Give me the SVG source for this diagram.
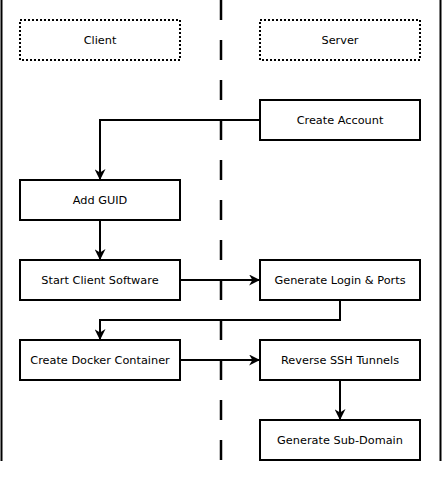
<svg xmlns="http://www.w3.org/2000/svg" width="443" height="483" viewBox="0 0 443 483">
<defs>
<style>
.box{fill:#fff;stroke:#000;stroke-width:2}
.lane{fill:#fff;stroke:#000;stroke-width:2;stroke-dasharray:2 2}
.t{font-family:"DejaVu Sans",Verdana,sans-serif;font-size:11.3px;fill:#000;text-anchor:middle;dominant-baseline:central}
.c{fill:none;stroke:#000;stroke-width:2}
</style>
<marker id="ah" viewBox="0 0 10 10" refX="9" refY="5" markerWidth="5.5" markerHeight="5.5" orient="auto" markerUnits="strokeWidth">
<path d="M0,0 L10,5 L0,10 L3,5 z" fill="#000"/>
</marker>
</defs>
<rect width="443" height="483" fill="#fff"/>
<g id="borders">
<line x1="1.5" y1="0" x2="1.5" y2="461" stroke="#000" stroke-width="2"/>
<line x1="440.5" y1="0" x2="440.5" y2="461" stroke="#000" stroke-width="2"/>
<line x1="221" y1="0" x2="221" y2="461" stroke="#000" stroke-width="2.5" stroke-dasharray="20 20"/>
</g>
<g id="client"><rect class="lane" x="20" y="20" width="160" height="40"/><text class="t" x="100" y="40">Client</text></g>
<g id="server"><rect class="lane" x="260" y="20" width="160" height="40"/><text class="t" x="340" y="40">Server</text></g>
<g id="connectors">
<path class="c" d="M260,120 H100 V179" marker-end="url(#ah)"/>
<path class="c" d="M100,220 V259" marker-end="url(#ah)"/>
<path class="c" d="M180,280 H259" marker-end="url(#ah)"/>
<path class="c" d="M340,300 V320 H100 V339" marker-end="url(#ah)"/>
<path class="c" d="M180,360 H259" marker-end="url(#ah)"/>
<path class="c" d="M340,380 V419" marker-end="url(#ah)"/>
</g>
<g id="create-account"><rect class="box" x="260" y="100" width="160" height="40"/><text class="t" x="340" y="120">Create Account</text></g>
<g id="add-guid"><rect class="box" x="20" y="180" width="160" height="40"/><text class="t" x="100" y="200">Add GUID</text></g>
<g id="start-client"><rect class="box" x="20" y="260" width="160" height="40"/><text class="t" x="100" y="280">Start Client Software</text></g>
<g id="generate-login"><rect class="box" x="260" y="260" width="160" height="40"/><text class="t" x="340" y="280">Generate Login &amp; Ports</text></g>
<g id="create-docker"><rect class="box" x="20" y="340" width="160" height="40"/><text class="t" x="100" y="360">Create Docker Container</text></g>
<g id="reverse-ssh"><rect class="box" x="260" y="340" width="160" height="40"/><text class="t" x="340" y="360">Reverse SSH Tunnels</text></g>
<g id="sub-domain"><rect class="box" x="260" y="420" width="160" height="40"/><text class="t" x="340" y="440">Generate Sub-Domain</text></g>
</svg>
